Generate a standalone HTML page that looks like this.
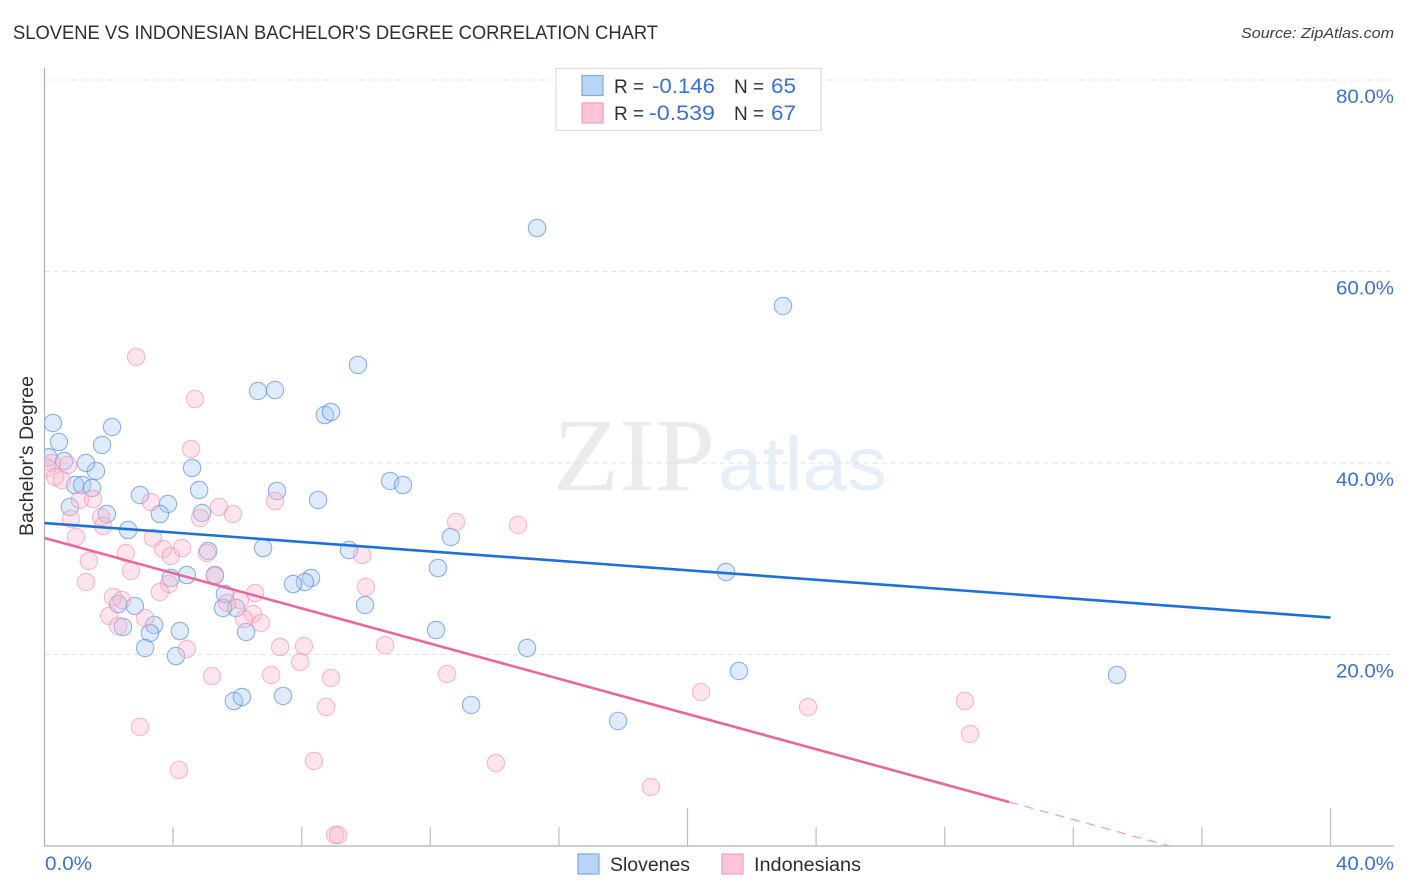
<!DOCTYPE html>
<html lang="en">
<head>
<meta charset="utf-8">
<title>Slovene vs Indonesian Bachelor's Degree Correlation Chart</title>
<style>
html,body{margin:0;padding:0;background:#fff;width:1406px;height:892px;overflow:hidden}
svg{display:block;font-family:"Liberation Sans",sans-serif}
</style>
</head>
<body>
<svg id="chart" xmlns="http://www.w3.org/2000/svg" width="1406" height="892" viewBox="0 0 1406 892">
  <defs><clipPath id="plot-clip"><rect x="44.5" y="68" width="1349" height="778"/></clipPath></defs>
  <text x="13" y="39" font-size="19" fill="#2b2f36" textLength="645" lengthAdjust="spacingAndGlyphs">SLOVENE VS INDONESIAN BACHELOR'S DEGREE CORRELATION CHART</text>
  <text x="1241" y="38" font-size="15" font-style="italic" fill="#3a3f47" textLength="153" lengthAdjust="spacingAndGlyphs">Source: ZipAtlas.com</text>

  <g>
    <text x="553" y="490" font-family="'Liberation Serif',serif" font-size="104" fill="#ebebeb" textLength="162" lengthAdjust="spacingAndGlyphs">ZIP</text>
    <text x="718" y="490" font-size="76" fill="#e6eef9" textLength="169" lengthAdjust="spacingAndGlyphs">atlas</text>
  </g>

  <g id="grid"></g>
  <g id="axes"></g>
  <g id="points" clip-path="url(#plot-clip)"></g>
  <g id="trends"></g>
  <g id="labels"></g>

  <text transform="translate(33,536) rotate(-90)" font-size="19" fill="#2b2f36" textLength="160" lengthAdjust="spacingAndGlyphs">Bachelor's Degree</text>

  <g>
    <rect x="556" y="68.5" width="265" height="62" fill="#fff" stroke="#dcdcdc" stroke-width="1.2"/>
    <rect x="582" y="75.500" width="21" height="20" fill="#b9d4f7" stroke="#7fa9e3" stroke-width="1.2"/>
    <rect x="582" y="103" width="21" height="20" fill="#fdc5d7" stroke="#f0a0ba" stroke-width="1.2"/>
    <text x="614" y="93" font-size="19" fill="#2b2f36">R =</text>
    <text x="652" y="93" font-size="21" fill="#3b71cf" textLength="63" lengthAdjust="spacingAndGlyphs">-0.146</text>
    <text x="734" y="93" font-size="19" fill="#2b2f36">N =</text>
    <text x="771" y="93" font-size="21" fill="#3b71cf" textLength="25" lengthAdjust="spacingAndGlyphs">65</text>
    <text x="614" y="120" font-size="19" fill="#2b2f36">R =</text>
    <text x="649" y="120" font-size="21" fill="#3b71cf" textLength="66" lengthAdjust="spacingAndGlyphs">-0.539</text>
    <text x="734" y="120" font-size="19" fill="#2b2f36">N =</text>
    <text x="771" y="120" font-size="21" fill="#3b71cf" textLength="25" lengthAdjust="spacingAndGlyphs">67</text>
  </g>

  <g>
    <rect x="578" y="854" width="21" height="20" fill="#b9d4f7" stroke="#7fa9e3" stroke-width="1.2"/>
    <text x="610" y="871" font-size="19" fill="#2b2f36" textLength="80" lengthAdjust="spacingAndGlyphs">Slovenes</text>
    <rect x="722" y="854" width="21" height="20" fill="#fdc5d7" stroke="#f0a0ba" stroke-width="1.2"/>
    <text x="754" y="871" font-size="19" fill="#2b2f36" textLength="107" lengthAdjust="spacingAndGlyphs">Indonesians</text>
  </g>
</svg>

<script>
const sloveneX = [0.26,0.45,0.12,0.61,1.60,1.29,1.79,2.10,0.95,1.17,1.48,0.79,1.94,2.60,2.97,3.84,3.59,4.81,4.59,4.90,5.09,6.80,7.23,8.51,6.64,7.17,8.72,8.91,9.75,10.75,11.15,9.47,12.64,12.24,15.32,22.97,21.20,21.60,33.36,15.01,12.18,13.27,17.84,9.97,8.29,8.10,7.73,6.27,5.96,5.55,5.61,5.30,4.43,3.93,2.29,2.81,2.44,3.41,3.28,4.21,3.13,4.09,5.89,6.14,7.42];
const sloveneY = [44.18,42.19,40.60,40.21,39.17,40.00,41.88,43.76,37.70,37.70,37.39,35.41,34.67,33.00,36.66,35.72,34.67,37.18,39.48,34.78,30.81,31.12,37.08,36.14,47.52,47.62,45.01,45.33,50.24,38.12,37.70,30.91,32.27,29.03,64.54,56.40,28.62,18.28,17.86,20.68,22.56,14.73,13.06,25.17,27.99,27.57,27.36,22.35,24.86,24.86,26.32,28.30,28.30,27.99,25.27,25.07,22.87,23.08,22.25,22.45,20.68,19.84,15.14,15.56,15.67];
const indonesianX = [2.85,4.68,4.56,0.73,0.23,0.08,0.33,0.54,1.10,1.51,0.82,1.76,1.82,0.98,1.38,1.29,2.53,2.69,3.31,3.37,3.69,3.93,4.28,5.05,4.84,5.43,5.86,7.17,3.87,3.59,5.30,6.55,2.13,2.41,2.01,2.29,3.13,6.08,5.68,6.49,6.21,6.73,10.00,9.88,4.43,7.33,8.07,7.95,10.59,7.05,5.21,8.91,8.76,2.97,12.80,14.73,12.52,14.04,8.38,4.18,18.86,20.42,23.75,28.63,28.79,9.04,9.13];
const indonesianY = [51.07,46.68,41.46,39.79,40.00,39.48,38.54,38.22,36.14,36.24,34.15,34.36,33.42,32.27,29.77,27.57,30.60,28.72,35.93,32.17,31.02,30.29,31.12,30.60,34.26,35.41,34.67,36.03,27.36,26.53,28.20,26.42,26.01,25.69,24.02,22.98,23.81,25.69,25.38,24.23,23.71,23.29,27.05,30.39,20.57,20.78,20.89,19.22,20.99,17.86,17.75,17.55,14.52,12.43,33.84,33.53,17.96,8.67,8.88,7.94,6.16,16.08,14.52,15.14,11.70,1.15,1.15];
const sloveneTrendX = [0,40];
const sloveneTrendY = [33.73,23.86];
const indonesianTrendX = [0,30];
const indonesianTrendY = [32.17,4.60];
const indonesianDashX = [30,35];
const indonesianDashY = [4.60,0];
const yTicks = [20,40,60,80];
const yTickLabels = ["20.0%","40.0%","60.0%","80.0%"];
const xTicks = [4,8,12,16,20,24,28,32,36,40];
const xMajorTicks = [20,40];
const xEdgeTicks = [0,40];
const xEdgeLabels = ["0.0%","40.0%"];

const NS = "http://www.w3.org/2000/svg";
function sx(v){ return 44.5 + v * 32.15; }
function sy(v){ return 846 - v * 9.575; }
function make(tag, attrs, parent){
  const el = document.createElementNS(NS, tag);
  for (const k in attrs) el.setAttribute(k, attrs[k]);
  parent.appendChild(el);
  return el;
}
const gridG = document.getElementById('grid');
const axesG = document.getElementById('axes');
const pointsG = document.getElementById('points');
const trendsG = document.getElementById('trends');
const labelsG = document.getElementById('labels');

yTicks.forEach((t, i) => {
  const line = make('line', {x1:44.5, x2:1393, y1:sy(t), y2:sy(t), stroke:'#e2e2e2', 'stroke-width':1, 'stroke-dasharray':'5 4'}, gridG);
  
  
  const label = make('text', {x:1394, y:sy(t) + 23, 'font-size':19, fill:'#3b71cf', 'text-anchor':'end', textLength:58, lengthAdjust:'spacingAndGlyphs'}, labelsG);
  label.textContent = yTickLabels[i];
  
  
});

const yAxis = make('line', {x1:44.5, x2:44.5, y1:68, y2:846, stroke:'#b0b0b0', 'stroke-width':1.2}, axesG);


const xAxis = make('line', {x1:44, x2:1394, y1:846, y2:846, stroke:'#b0b0b0', 'stroke-width':1.2}, axesG);



xTicks.forEach(t => {
  const len = xMajorTicks.includes(t) ? 38 : 19;
  const tick = make('line', {x1:sx(t), x2:sx(t), y1:846, y2:846 - len, stroke:'#bdbdbd', 'stroke-width':1.2}, axesG);
  
  
});

xEdgeTicks.forEach((t, i) => {
  const label = make('text', {x: t === 0 ? 45 : 1394, y:870, 'font-size':19, fill:'#3b71cf', 'text-anchor': t === 0 ? 'start' : 'end', textLength: t === 0 ? 47 : 58, lengthAdjust:'spacingAndGlyphs'}, labelsG);
  label.textContent = xEdgeLabels[i];
  
  
});

sloveneX.forEach((v, i) => {
  const c = make('circle', {cx:sx(v), cy:sy(sloveneY[i]), r:8.7, fill:'#a5c8f4', 'fill-opacity':0.36, stroke:'#4a86dd', 'stroke-opacity':0.62, 'stroke-width':1.1}, pointsG);
  
  
});
indonesianX.forEach((v, i) => {
  const c = make('circle', {cx:sx(v), cy:sy(indonesianY[i]), r:8.7, fill:'#fbb6cc', 'fill-opacity':0.36, stroke:'#ee8fae', 'stroke-opacity':0.6, 'stroke-width':1.1}, pointsG);
  
  
});

const blueTrend = make('line', {x1:sx(sloveneTrendX[0]), y1:sy(sloveneTrendY[0]), x2:sx(sloveneTrendX[1]), y2:sy(sloveneTrendY[1]), stroke:'#1f6fd8', 'stroke-width':2.6}, trendsG);


const pinkTrend = make('line', {x1:sx(indonesianTrendX[0]), y1:sy(indonesianTrendY[0]), x2:sx(indonesianTrendX[1]), y2:sy(indonesianTrendY[1]), stroke:'#e8689a', 'stroke-width':2.6}, trendsG);


const pinkDash = make('line', {x1:sx(indonesianDashX[0]), y1:sy(indonesianDashY[0]), x2:sx(indonesianDashX[1]), y2:sy(indonesianDashY[1]), stroke:'#ee9ab8', 'stroke-width':1.2, 'stroke-dasharray':'9 7'}, trendsG);


</script>
</body>
</html>
